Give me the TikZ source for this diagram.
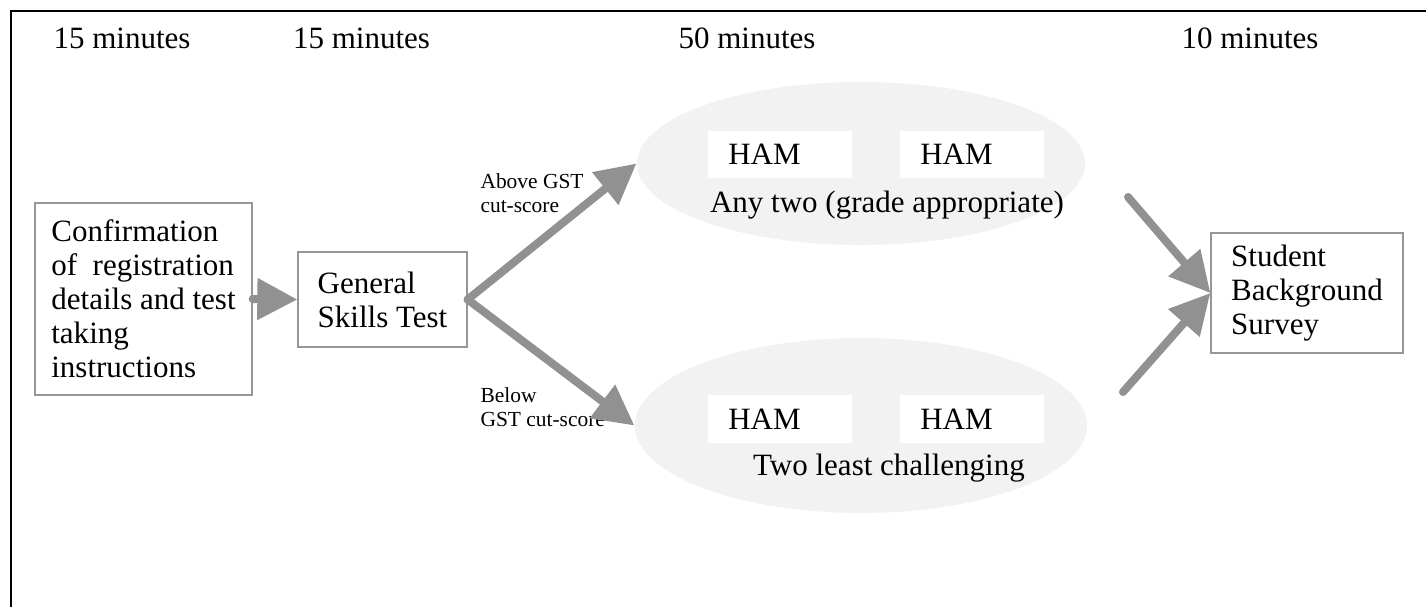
\documentclass[tikz,border=0pt]{standalone}
\usepackage{fontspec}
\setmainfont{Liberation Serif}
\usepackage{tikz}
\usetikzlibrary{arrows.meta,shapes.geometric,positioning}

\definecolor{flowgray}{RGB}{145,145,145}
\definecolor{boxgray}{RGB}{150,150,150}

\begin{document}
\begin{tikzpicture}[
    x=0.387pt, y=-0.387pt,
    every node/.style={font=\fontsize{12}{13.2}\selectfont},
    stage/.style={rectangle,draw=boxgray,line width=0.5pt,align=left,inner sep=0pt},
    group/.style={ellipse,fill=gray!10,inner sep=0pt},
    ham/.style={rectangle,fill=white,minimum width=55.7pt,minimum height=18.2pt,
                text width=40pt,align=left,inner sep=0pt},
    branch/.style={font=\fontsize{8.3}{9.3}\selectfont,align=left,inner sep=0pt,anchor=north west},
    flow/.style={draw=flowgray,line width=3.1pt,line cap=round,
                 -{Triangle[length=15.5pt,width=15.5pt]}}
]
\useasboundingbox (0,0) rectangle (1426,607);
\draw[line width=0.6pt] (11,607) -- (11,11) -- (1426,11);

\node[anchor=base] (t1) at (122,48) {15 minutes};
\node[anchor=base] (t2) at (361.5,48) {15 minutes};
\node[anchor=base] (t3) at (747,48) {50 minutes};
\node[anchor=base] (t4) at (1250,48) {10 minutes};

\node[stage,minimum width=84pt,minimum height=74.3pt] (conf) at (143.5,299)
  {Confirmation\\of~~registration\\details and test\\taking\\instructions};
\node[stage,minimum width=65.4pt,minimum height=36.8pt] (gst) at (382.5,299.5)
  {General\\Skills Test};
\node[stage,minimum width=74.3pt,minimum height=46.4pt] (sbs) at (1307,293)
  {Student\\Background\\Survey};

\node[group,minimum width=173.4pt,minimum height=63.1pt] (any) at (861,163.5) {};
\node[ham] (ham1) at (780,154.5) {HAM};
\node[ham] (ham2) at (972,154.5) {HAM};
\node[anchor=base] (anylbl) at (887,212) {Any two (grade appropriate)};

\node[group,minimum width=175pt,minimum height=67.7pt] (least) at (861,425.5) {};
\node[ham] (ham3) at (780,419) {HAM};
\node[ham] (ham4) at (972,419) {HAM};
\node[anchor=base] (leastlbl) at (889,475) {Two least challenging};

\node[branch] (above) at (480,173) {Above GST\\cut-score};
\node[branch] (below) at (480,387) {Below\\GST cut-score};

\coordinate (out1) at (1128,197);
\coordinate (out2) at (1123,392);

\draw[flow] (conf.east) -- (gst.west);
\draw[flow] (gst.east) -- (any.west);
\draw[flow] (gst.east) -- (least.west);
\draw[flow] (out1) -- (sbs.west);
\draw[flow] (out2) -- (sbs.west);
\end{tikzpicture}
\end{document}
